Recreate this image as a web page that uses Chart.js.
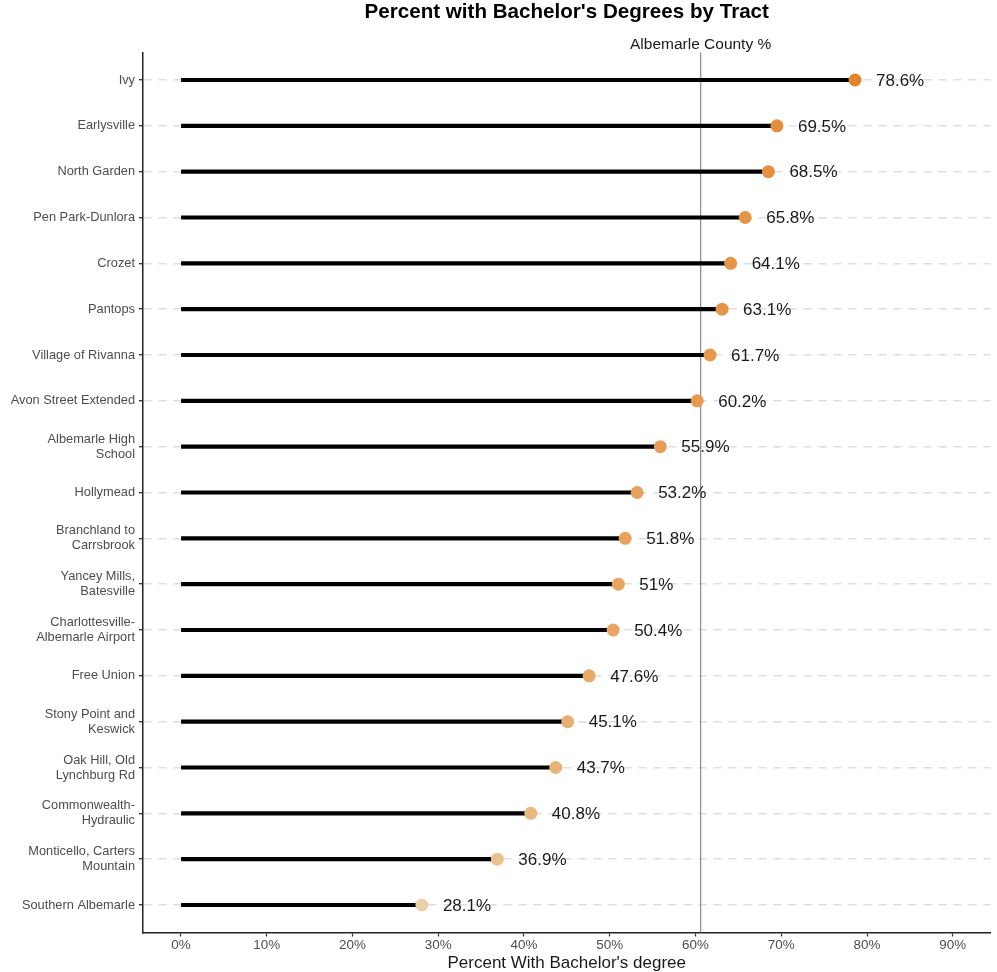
<!DOCTYPE html>
<html lang="en">
<head>
  <meta charset="UTF-8">
  <title>Percent with Bachelor's Degrees by Tract</title>
  <script src="https://cdn.jsdelivr.net/npm/chart.js"></script>
  <style>
    html, body { margin: 0; padding: 0; background: #fff; }
    .wrap { width: 997px; height: 972px; position: relative; }
  </style>
</head>
<body>
<div class="wrap">
  <canvas id="lollipop"></canvas>
</div>

<script>
  // tracts, top to bottom
  const tracts = [
    ['Ivy'],
    ['Earlysville'],
    ['North Garden'],
    ['Pen Park-Dunlora'],
    ['Crozet'],
    ['Pantops'],
    ['Village of Rivanna'],
    ['Avon Street Extended'],
    ['Albemarle High', 'School'],
    ['Hollymead'],
    ['Branchland to', 'Carrsbrook'],
    ['Yancey Mills,', 'Batesville'],
    ['Charlottesville-', 'Albemarle Airport'],
    ['Free Union'],
    ['Stony Point and', 'Keswick'],
    ['Oak Hill, Old', 'Lynchburg Rd'],
    ['Commonwealth-', 'Hydraulic'],
    ['Monticello, Carters', 'Mountain'],
    ['Southern Albemarle']
  ];
  const pctBachelors = [78.6, 69.5, 68.5, 65.8, 64.1, 63.1, 61.7, 60.2, 55.9, 53.2,
                        51.8, 51, 50.4, 47.6, 45.1, 43.7, 40.8, 36.9, 28.1];
  const countyPct = 60.6;
  const xTicks = [0, 10, 20, 30, 40, 50, 60, 70, 80, 90];

  Chart.defaults.font.family = '"Liberation Sans", Arial, sans-serif';

  // light tan -> orange, by value
  function dotColor(v) {
    const stops = [[28.1, [232, 211, 169]], [50, [233, 165, 98]], [78.6, [226, 132, 46]]];
    let a = stops[0], b = stops[1];
    if (v > stops[1][0]) { a = stops[1]; b = stops[2]; }
    const t = Math.max(0, Math.min(1, (v - a[0]) / (b[0] - a[0])));
    const c = a[1].map((ch, k) => Math.round(ch + (b[1][k] - ch) * t));
    return 'rgb(' + c.join(',') + ')';
  }

  const titlePlugin = {
    id: 'titleText',
    afterDraw(chart) {
      const {ctx, chartArea} = chart;
      ctx.save();
      ctx.font = 'bold 20.6px "Liberation Sans", Arial, sans-serif';
      ctx.fillStyle = '#000';
      ctx.textAlign = 'center';
      ctx.textBaseline = 'middle';
      ctx.fillText("Percent with Bachelor's Degrees by Tract", (chartArea.left + chartArea.right) / 2, 12);
      ctx.restore();
    }
  };

  const countyLine = {
    id: 'countyLine',
    beforeDatasetsDraw(chart) {
      const {ctx, chartArea, scales} = chart;
      const x = scales.x.getPixelForValue(countyPct);
      ctx.save();
      ctx.strokeStyle = '#8c8c8c';
      ctx.lineWidth = 1.2;
      ctx.beginPath();
      ctx.moveTo(x, chartArea.top);
      ctx.lineTo(x, chartArea.bottom);
      ctx.stroke();
      ctx.font = '15.5px "Liberation Sans", Arial, sans-serif';
      ctx.fillStyle = '#1a1a1a';
      ctx.textAlign = 'center';
      ctx.textBaseline = 'middle';
      ctx.fillText('Albemarle County %', x, 45);
      ctx.restore();
    }
  };

  const valueLabels = {
    id: 'valueLabels',
    afterDatasetsDraw(chart) {
      const {ctx, scales} = chart;
      ctx.save();
      ctx.font = '17px "Liberation Sans", Arial, sans-serif';
      ctx.fillStyle = '#1a1a1a';
      ctx.textAlign = 'left';
      ctx.textBaseline = 'middle';
      pctBachelors.forEach((v, i) => {
        ctx.fillText(v + '%', scales.x.getPixelForValue(v) + 21, scales.y.getPixelForValue(i) + 1);
      });
      ctx.restore();
    }
  };

  const ctx = document.getElementById('lollipop').getContext('2d');
  new Chart(ctx, {
    type: 'bar',
    data: {
      datasets: [
        {
          type: 'line',
          label: 'dots',
          data: pctBachelors.map((v, i) => ({x: v, y: i})),
          showLine: false,
          pointRadius: 6.5,
          pointHoverRadius: 6.5,
          pointBorderWidth: 0,
          pointBackgroundColor: pctBachelors.map(dotColor),
          order: 0
        },
        {
          type: 'bar',
          label: 'stems',
          data: pctBachelors.map((v, i) => ({x: v, y: i})),
          backgroundColor: '#000',
          barThickness: 3.5,
          order: 1
        }
      ]
    },
    options: {
      indexAxis: 'y',
      responsive: true,
      maintainAspectRatio: false,
      animation: false,
      devicePixelRatio: 1,
      layout: { padding: { top: 52.5, right: 4, left: 0, bottom: 0 } },
      scales: {
        x: {
          type: 'linear',
          min: -4.42,
          max: 94.4,
          afterBuildTicks: s => { s.ticks = xTicks.map(v => ({value: v})); },
          afterFit: s => { s.height = 39.5; },
          ticks: {
            callback: v => v + '%',
            color: '#4d4d4d',
            font: { size: 13.4 },
            padding: 1,
            maxRotation: 0
          },
          grid: {
            drawOnChartArea: false,
            drawTicks: true,
            tickLength: 4,
            tickColor: '#333',
            tickWidth: 1.2
          },
          border: { color: '#222', width: 1.5 },
          title: {
            display: true,
            text: "Percent With Bachelor's degree",
            color: '#1a1a1a',
            font: { size: 17, lineHeight: 1 },
            padding: 0
          }
        },
        y: {
          type: 'linear',
          reverse: true,
          offset: false,
          min: -0.6,
          max: 18.6,
          afterBuildTicks: s => { s.ticks = tracts.map((t, i) => ({value: i})); },
          afterFit: s => { s.width = 143; },
          ticks: {
            callback: v => tracts[v],
            color: '#4d4d4d',
            font: { size: 12.8, lineHeight: 1.17 },
            padding: 4
          },
          grid: {
            offset: false,
            color: '#dedede',
            lineWidth: 1.4,
            tickLength: 4,
            tickColor: '#333',
            tickWidth: 1.3,
            tickBorderDash: []
          },
          border: { color: '#222', width: 1.5, dash: [8, 7] }
        }
      },
      plugins: {
        legend: { display: false },
        tooltip: { enabled: false },
        title: { display: false }
      }
    },
    plugins: [titlePlugin, countyLine, valueLabels]
  });
</script>
</body>
</html>
